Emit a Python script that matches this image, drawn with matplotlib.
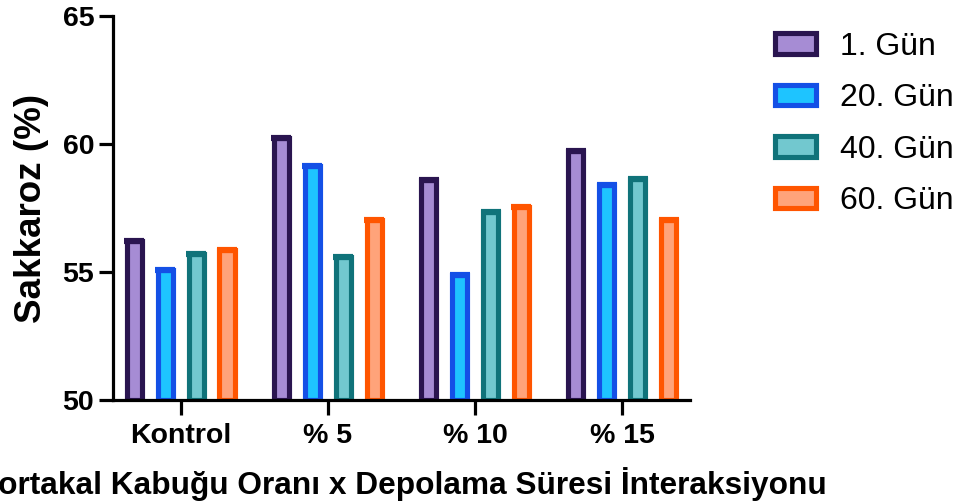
import numpy as np
import matplotlib.pyplot as plt

plt.rcParams['font.family'] = ['Liberation Sans', 'DejaVu Sans']

groups = ['Kontrol', '% 5', '% 10', '% 15']
series = ['1. Gün', '20. Gün', '40. Gün', '60. Gün']
gun1 = [56.2, 60.25, 58.6, 59.75]
gun20 = [55.1, 59.15, 54.9, 58.4]
gun40 = [55.7, 55.6, 57.35, 58.65]
gun60 = [55.85, 57.05, 57.55, 57.05]
errors = [0.04, 0.04, 0.04, 0.04]

faces = ['#A68CD4', '#1EC4FF', '#72C8CF', '#FFA37A']
edges = ['#2A1550', '#1450E6', '#10737A', '#FF5500']

fig = plt.figure(figsize=(9.57, 5.04), dpi=100)
ax = fig.add_axes([0.118, 0.206, 0.603, 0.762])

x = np.arange(len(groups))
step = 0.21
width = 0.103
for i, vals in enumerate([gun1, gun20, gun40, gun60]):
    pos = x + (i - 1.5) * step
    ax.bar(pos, np.array(vals) - 50, width, bottom=50, color=faces[i],
           edgecolor=edges[i], linewidth=3.7, label=series[i], zorder=2)
    ax.errorbar(pos, vals, yerr=errors, fmt='none', ecolor=edges[i],
                elinewidth=2, capsize=7.5, capthick=3, zorder=3)

ax.set_xlim(-0.46, 3.46)
ax.set_ylim(50, 65)
ax.set_yticks([50, 55, 60, 65])
ax.set_xticks(x)
ax.set_xticklabels(groups, fontsize=20.5, fontweight='bold')
for lab in ax.get_yticklabels():
    lab.set_fontsize(20.5)
    lab.set_fontweight('bold')

for s in ['top', 'right']:
    ax.spines[s].set_visible(False)
for s in ['left', 'bottom']:
    ax.spines[s].set_linewidth(2.3)
ax.tick_params(axis='y', length=10, width=2.3, pad=3.5)
ax.tick_params(axis='x', length=10.5, width=2.3, pad=6)

ax.set_ylabel('Sakkaroz (%)', fontsize=26.5, fontweight='bold', labelpad=10)
ax.set_xlabel('Portakal Kabuğu Oranı x Depolama Süresi İnteraksiyonu',
              fontsize=22.8, fontweight='bold', labelpad=13)

ax.legend(loc='upper left', bbox_to_anchor=(1.125, 0.992), frameon=False,
          fontsize=23, handlelength=1.3, handleheight=0.62,
          labelspacing=0.67, handletextpad=0.75, borderaxespad=0)

fig.savefig('out.png', dpi=100)
